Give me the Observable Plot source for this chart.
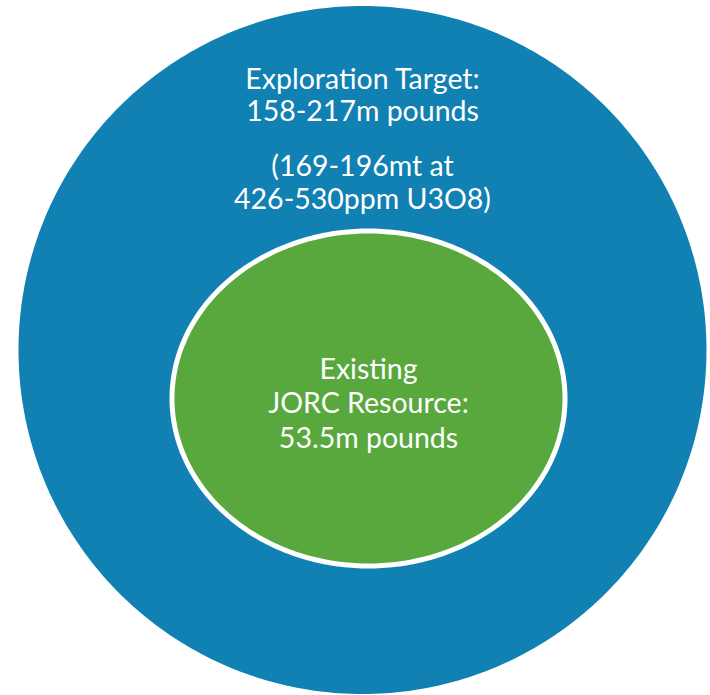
<!DOCTYPE html>
<html>
<head>
<meta charset="utf-8">
<script src="https://cdn.jsdelivr.net/npm/d3@7"></script>
<script src="https://cdn.jsdelivr.net/npm/@observablehq/plot@0.6"></script>
<style>
  html, body { margin: 0; padding: 0; background: #ffffff; }
  #chart { width: 710px; height: 695px; }
  svg text { font-family: Lato, "Open Sans", sans-serif; }
</style>
</head>
<body>
<div id="chart"></div>
<script>
// ---- data ----
const layerNames = ["Exploration Target", "Existing JORC Resource"];
const layerColors = ["#1180B2", "#58A83E"];
const outerLines = ["Exploration Target:", "158-217m pounds", "(169-196mt at", "426-530ppm U3O8)"];
const innerLines = ["Existing", "JORC Resource:", "53.5m pounds"];

// ---- layout (pixel space of the diagram) ----
const W = 710, H = 695;
const FS = 28.5;
const layout = [
  {cx: 362, cy: 349.5, rx: 344, ry: 344, stroke: "none", sw: 0},
  {cx: 368, cy: 398, rx: 196.5, ry: 167.5, stroke: "#ffffff", sw: 5}
];
// text blocks: which lines, block centre y, line height (px)
const blocks = [
  {lines: outerLines.slice(0, 2), layer: 0, y: 94.5, lh: 32},
  {lines: outerLines.slice(2, 4), layer: 0, y: 181.5, lh: 33},
  {lines: innerLines, layer: 1, y: 401.5, lh: 34.5}
];

const angles = d3.range(0, 360, 1).map(a => a * Math.PI / 180);
const shapes = layerNames.map((name, i) => {
  const g = layout[i];
  return angles.map(t => ({name, x: g.cx + g.rx * Math.cos(t), y: g.cy + g.ry * Math.sin(t)}));
});

const chart = Plot.plot({
  width: W,
  height: H,
  margin: 0,
  x: {domain: [0, W], range: [0, W], axis: null},
  y: {domain: [0, H], range: [0, H], axis: null},
  marks: [
    ...shapes.map((pts, i) => Plot.line(pts, {
      x: "x", y: "y", curve: "linear-closed",
      fill: layerColors[i],
      stroke: layout[i].stroke,
      strokeWidth: layout[i].sw
    })),
    ...blocks.map(b => Plot.text([{t: b.lines.join("\n"), x: layout[b.layer].cx, y: b.y}], {
      x: "x", y: "y", text: "t", fill: "#ffffff",
      fontSize: FS, lineHeight: b.lh / FS, textAnchor: "middle", lineAnchor: "middle"
    }))
  ]
});
document.getElementById("chart").appendChild(chart);
</script>
</body>
</html>
